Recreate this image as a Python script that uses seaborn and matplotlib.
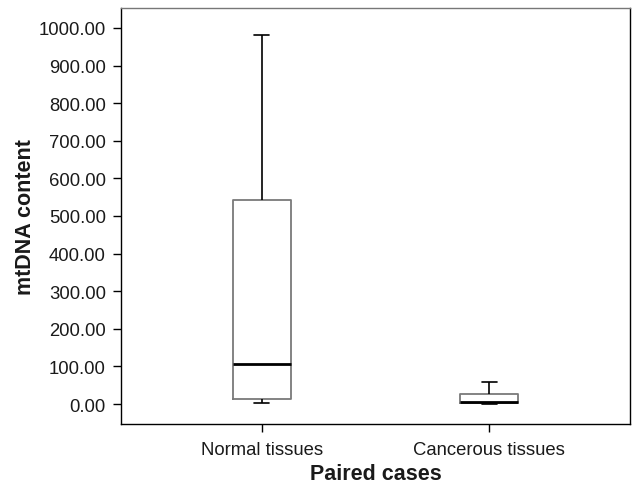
import numpy as np
import pandas as pd
import matplotlib
matplotlib.use("Agg")
import matplotlib.pyplot as plt
import seaborn as sns

categories = ["Normal tissues", "Cancerous tissues"]
normal_values = [4.0, 13.0, 106.0, 542.0, 981.0]
cancer_values = [1.0, 4.0, 5.0, 27.0, 58.0]
y_ticks = [0, 100, 200, 300, 400, 500, 600, 700, 800, 900, 1000]

df = pd.DataFrame({
    "group": [categories[0]] * len(normal_values) + [categories[1]] * len(cancer_values),
    "value": normal_values + cancer_values,
})

sns.set_style("white")
plt.rcParams["font.family"] = ["Liberation Sans", "DejaVu Sans"]
plt.rcParams["text.color"] = "#1a1a1a"
plt.rcParams["axes.labelcolor"] = "#1a1a1a"

fig = plt.figure(figsize=(6.32, 4.89), dpi=100)
ax = fig.add_axes([0.1915, 0.1309, 0.8053, 0.8507])

sns.boxplot(data=df, x="group", y="value", order=categories, ax=ax,
            whis=(0, 100), width=0.255, fill=False, color="black",
            linewidth=1.0, showfliers=False,
            boxprops=dict(color="#7a7a7a", linewidth=1.3),
            whiskerprops=dict(color="black", linewidth=1.2),
            capprops=dict(color="black", linewidth=1.2),
            medianprops=dict(color="black", linewidth=2.0),
            capwidths=0.066)

ax.set_xlim(-0.617, 1.617)
ax.set_ylim(-53, 1053)
ax.set_yticks(y_ticks)
ax.set_yticklabels([f"{v:.2f}" for v in y_ticks])
ax.tick_params(axis="both", direction="out", length=6, width=1, colors="black",
               labelcolor="#1a1a1a", labelsize=13.3, bottom=True, left=True)
ax.tick_params(axis="y", pad=5)
ax.tick_params(axis="x", pad=6)
for s in ax.spines.values():
    s.set_color("black")
    s.set_linewidth(1.0)
ax.spines["top"].set_color("#777777")
ax.set_xlabel("Paired cases", fontsize=15.5, fontweight="bold", labelpad=4)
ax.set_ylabel("mtDNA content", fontsize=15.5, fontweight="bold", labelpad=2)

fig.savefig("out.png", dpi=100)
